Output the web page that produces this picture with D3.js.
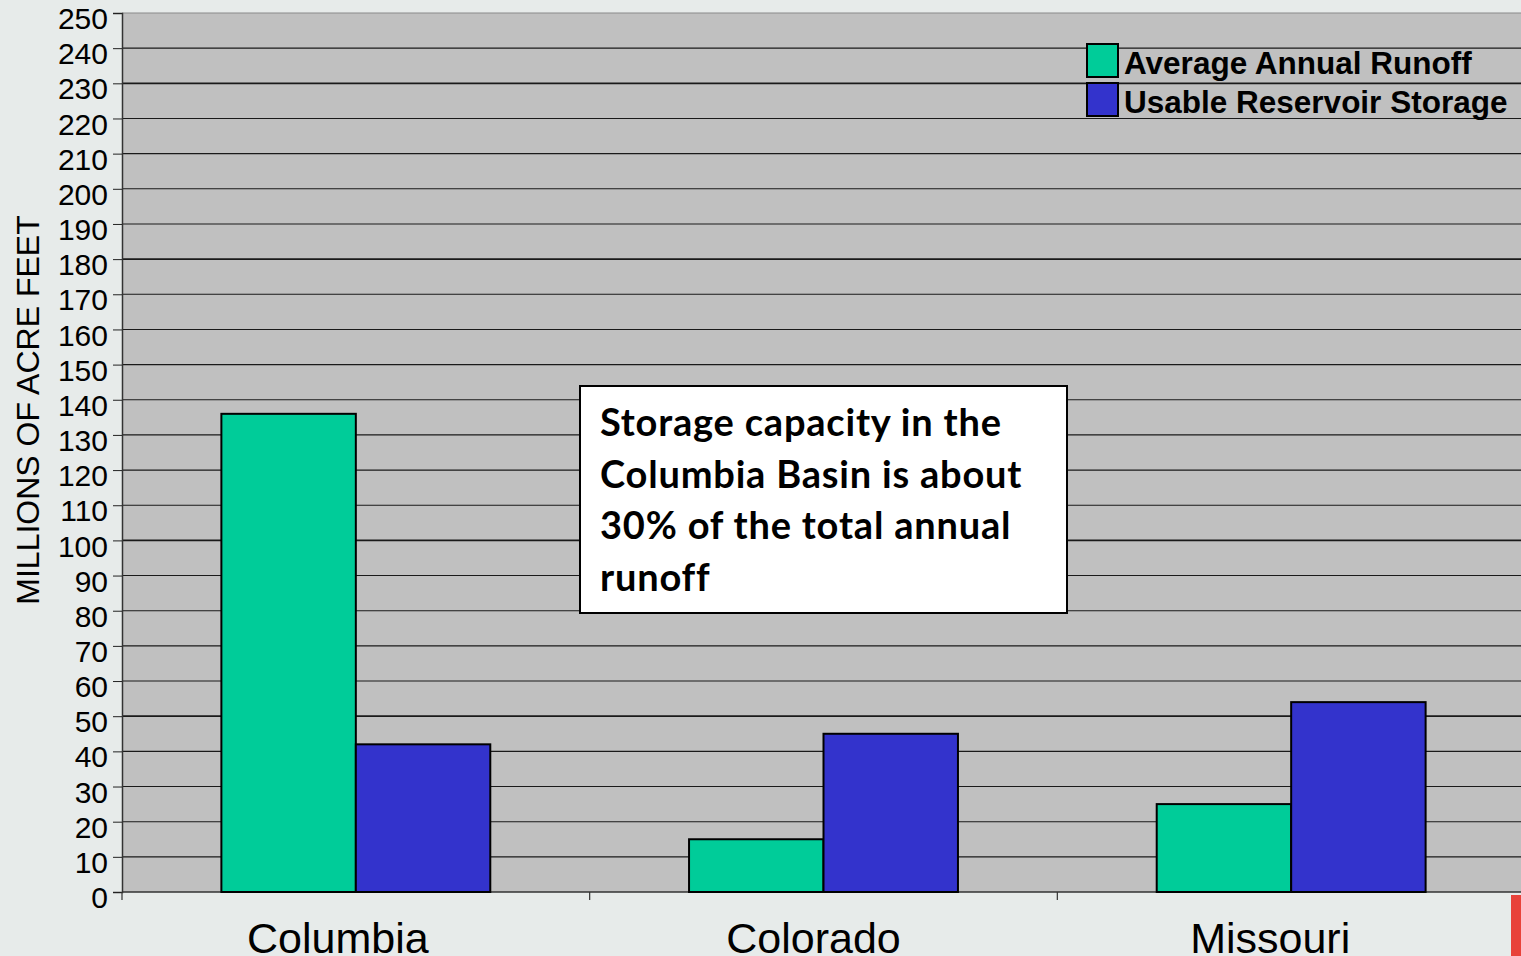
<!DOCTYPE html>
<html>
<head>
<meta charset="utf-8">
<script src="https://cdn.jsdelivr.net/npm/d3@7"></script>
<style>
  body { margin: 0; background: #e7ebea; overflow: hidden; }
  svg { display: block; }
</style>
</head>
<body>
<div id="chart-area"></div>
<script>
// chart data
const basins = ["Columbia", "Colorado", "Missouri"];
const seriesNames = ["Average Annual Runoff", "Usable Reservoir Storage"];
const runoff = [136, 15, 25];
const storage = [42, 45, 54];
const yTicks = d3.range(0, 251, 10);
const noteLines = ["Storage capacity in the", "Columbia Basin is about", "30% of the total annual", "runoff"];

const colors = ["#00cc99", "#3333cc"];
const width = 1521, height = 956;
const plot = { left: 122, right: 1525, top: 13, bottom: 892 };

const svg = d3.select("#chart-area").append("svg")
  .attr("width", width)
  .attr("height", height);

// background
svg.append("rect").attr("width", width).attr("height", height).attr("fill", "#e7ebea");

const x = d3.scaleBand().domain(basins).range([plot.left, plot.right]);
const x1 = d3.scaleBand().domain(seriesNames).range([0, x.bandwidth() * 0.575]);
const y = d3.scaleLinear().domain([0, 250]).range([plot.bottom, plot.top]);

// plot background
svg.append("rect")
  .attr("x", plot.left).attr("y", plot.top)
  .attr("width", plot.right - plot.left).attr("height", plot.bottom - plot.top)
  .attr("fill", "#c0c0c0");

// gridlines
svg.append("g").selectAll("line")
  .data(yTicks.filter(d => d > 0))
  .join("line")
    .attr("x1", plot.left).attr("x2", plot.right)
    .attr("y1", d => y(d)).attr("y2", d => y(d))
    .attr("stroke", d => d === 250 ? "#8a8a8a" : "#1a1a1a")
    .attr("stroke-width", d => [230, 180, 100, 50].includes(d) ? 1.8 : 1.1);

// y axis
const yAxis = svg.append("g")
  .attr("transform", `translate(${plot.left},0)`)
  .call(d3.axisLeft(y).tickValues(yTicks).tickSize(9).tickPadding(5));
yAxis.select(".domain").attr("stroke", "#333").attr("stroke-width", 1.5);
yAxis.selectAll(".tick line").attr("stroke", "#222");
yAxis.selectAll("text")
  .attr("font-family", "Liberation Sans, Arial, sans-serif")
  .attr("font-size", 30).attr("fill", "#000").attr("dy", "0.52em");

// x axis baseline + category ticks
svg.append("line")
  .attr("x1", plot.left).attr("x2", plot.right)
  .attr("y1", plot.bottom).attr("y2", plot.bottom)
  .attr("stroke", "#333").attr("stroke-width", 1.5);
svg.append("g").selectAll("line")
  .data(basins)
  .join("line")
    .attr("x1", d => x(d)).attr("x2", d => x(d))
    .attr("y1", plot.bottom).attr("y2", plot.bottom + 8)
    .attr("stroke", "#333").attr("stroke-width", 1.2);
svg.append("g").selectAll("text")
  .data(basins)
  .join("text")
    .attr("x", (d, i) => x(d) + x.bandwidth() / 2 - 18 + [0, 8, -3][i])
    .attr("y", 953)
    .attr("text-anchor", "middle")
    .attr("font-family", "Liberation Sans, Arial, sans-serif")
    .attr("font-size", 43)
    .text(d => d);

// y title
svg.append("text")
  .attr("transform", "translate(39,410) rotate(-90)")
  .attr("text-anchor", "middle")
  .attr("font-family", "Liberation Sans, Arial, sans-serif")
  .attr("font-size", 32)
  .text("MILLIONS OF ACRE FEET");

// bars
const rows = basins.map((b, i) => ({ basin: b, values: [runoff[i], storage[i]] }));
const groupOffset = (x.bandwidth() - x1.range()[1]) / 2;
svg.append("g").selectAll("g")
  .data(rows)
  .join("g")
    .attr("transform", d => `translate(${x(d.basin) + groupOffset},0)`)
  .selectAll("rect")
  .data(d => d.values.map((v, i) => ({ key: seriesNames[i], v, i })))
  .join("rect")
    .attr("x", d => x1(d.key))
    .attr("y", d => y(d.v))
    .attr("width", x1.bandwidth())
    .attr("height", d => plot.bottom - y(d.v))
    .attr("fill", d => colors[d.i])
    .attr("stroke", "#000")
    .attr("stroke-width", 2);

// legend
const legend = svg.append("g").attr("transform", "translate(1087,44)");
legend.selectAll("rect")
  .data(seriesNames)
  .join("rect")
    .attr("x", 0).attr("y", (d, i) => i * 39)
    .attr("width", 31).attr("height", 33)
    .attr("fill", (d, i) => colors[i])
    .attr("stroke", "#000").attr("stroke-width", 2);
legend.selectAll("text")
  .data(seriesNames)
  .join("text")
    .attr("x", 37).attr("y", (d, i) => 30 + i * 39)
    .attr("font-family", "Liberation Sans, Arial, sans-serif")
    .attr("font-weight", "bold")
    .attr("font-size", 31.5)
    .text(d => d);

// annotation box
const note = svg.append("g").attr("transform", "translate(580,386)");
note.append("rect")
  .attr("width", 487).attr("height", 227)
  .attr("fill", "#fff").attr("stroke", "#000").attr("stroke-width", 2);
note.selectAll("text")
  .data(noteLines)
  .join("text")
    .attr("x", 20).attr("y", (d, i) => 50 + i * 51.5)
    .attr("font-family", "Lato, 'Open Sans', sans-serif")
    .attr("font-weight", "bold")
    .attr("font-size", 38)
    .attr("letter-spacing", 0.8)
    .text(d => d);

// red edge decoration at bottom right
svg.append("rect")
  .attr("x", 1511).attr("y", 895).attr("width", 10).attr("height", 61)
  .attr("fill", "#e8423a");
</script>
</body>
</html>
